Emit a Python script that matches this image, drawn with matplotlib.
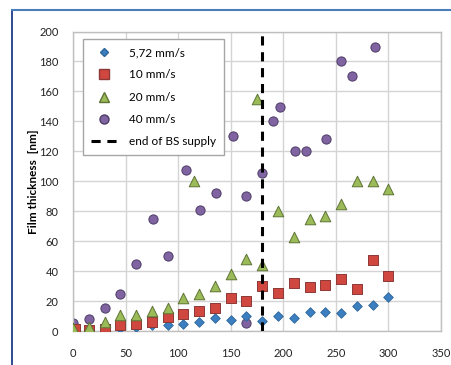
import matplotlib.pyplot as plt
from matplotlib.lines import Line2D

plt.rcParams['font.family'] = ['Lato', 'DejaVu Sans']

# 5,72 mm/s
x_572 = [0, 15, 30, 45, 60, 75, 90, 105, 120, 135, 150, 165, 180, 195, 210, 225, 240, 255, 270, 285, 300]
y_572 = [0, 1, 1, 2, 3, 4, 4, 4.5, 6, 9, 7.5, 10, 7, 10, 9, 13, 12.5, 12, 16.5, 17.5, 23]

# 10 mm/s
x_10 = [2, 15, 30, 45, 60, 75, 90, 105, 120, 135, 150, 165, 180, 195, 210, 225, 240, 255, 270, 285, 300]
y_10 = [1.3, 0.7, 1.6, 3.8, 4.9, 6.2, 9.3, 11.1, 13.6, 15.1, 22.2, 20.2, 30.2, 25.3, 32.2, 29.6, 30.4, 34.9, 28.2, 47.1, 36.9]

# 20 mm/s
x_20 = [0, 15, 30, 45, 60, 75, 90, 105, 115, 120, 135, 150, 165, 175, 180, 195, 210, 225, 240, 255, 270, 285, 300]
y_20 = [2, 2.9, 5.8, 10.4, 10.9, 13.3, 15.1, 22.2, 100, 24.4, 30.2, 37.8, 48, 155, 44, 80, 63, 75, 77, 85, 100, 100, 95]

# 40 mm/s
x_40 = [0, 15, 30, 45, 60, 76, 90, 107, 121, 136, 152, 165, 165, 180, 190, 197, 211, 222, 241, 255, 265, 287]
y_40 = [5.6, 8.2, 15.1, 24.4, 45, 75, 50, 107.3, 81, 92.2, 130.2, 90.2, 5.6, 105.5, 140.4, 149.8, 120, 120, 128.2, 180.2, 170, 189.8]

bs_end = 180

fig = plt.figure(figsize=(4.51, 3.65), dpi=100)
ax = fig.add_axes([73 / 451, 34 / 365, 368 / 451, 299.5 / 365])

ax.scatter(x_572, y_572, marker='D', s=24, color='#3C7FC0', edgecolors='#2E6699',
           linewidths=0.6, zorder=3, label='5,72 mm/s')
ax.scatter(x_10, y_10, marker='s', s=50, color='#D0473F', edgecolors='#8C3836',
           linewidths=0.7, zorder=4, label='10 mm/s')
ax.scatter(x_20, y_20, marker='^', s=58, color='#9BBB59', edgecolors='#5E7334',
           linewidths=0.7, zorder=5, label='20 mm/s')
ax.scatter(x_40, y_40, marker='o', s=44, color='#8064A2', edgecolors='#4E3D66',
           linewidths=0.7, zorder=2, label='40 mm/s')
ax.axvline(bs_end, color='black', linewidth=2.2, linestyle=(0, (3, 2.2)), zorder=6)

ax.set_xlim(0, 350)
ax.set_ylim(0, 200)
ax.set_xticks(range(0, 351, 50))
ax.set_yticks(range(0, 201, 20))
ax.grid(True, color='#D4D4D4', linewidth=1.0)
ax.set_axisbelow(True)
for s in ax.spines.values():
    s.set_color('#BFBFBF')
    s.set_linewidth(1.0)
ax.tick_params(length=0, labelsize=8, colors='#222222')
ax.tick_params(axis='y', pad=10.5)
ax.tick_params(axis='x', pad=12)
ax.set_ylabel('Film thickness  [nm]', fontsize=8.5, fontweight='bold')
ax.yaxis.set_label_coords(-0.093, 0.5)

handles = [
    Line2D([], [], marker='D', linestyle='none', markersize=4.5, color='#3C7FC0', markeredgecolor='#2E6699'),
    Line2D([], [], marker='s', linestyle='none', markersize=6.5, color='#D0473F', markeredgecolor='#8C3836'),
    Line2D([], [], marker='^', linestyle='none', markersize=7, color='#9BBB59', markeredgecolor='#5E7334'),
    Line2D([], [], marker='o', linestyle='none', markersize=6.5, color='#8064A2', markeredgecolor='#4E3D66'),
    Line2D([], [], color='black', linewidth=2.2, linestyle=(0, (3, 2.2))),
]
labels = ['5,72 mm/s', '10 mm/s', '20 mm/s', '40 mm/s', 'end of BS supply']
leg = ax.legend(handles, labels, loc='upper left', bbox_to_anchor=(0.027, 0.975),
                borderaxespad=0, fontsize=8.5, fancybox=False, framealpha=1,
                edgecolor='#A6A6A6', labelspacing=0.95, handlelength=2.2,
                handletextpad=1.0, borderpad=0.7)
leg.get_frame().set_linewidth(1.0)

# border lines of the original frame
fig.add_artist(Line2D([11.5 / 451, 11.5 / 451], [0, 1 - 9.5 / 365], color='#1F3C88', linewidth=1.3))
fig.add_artist(Line2D([11.5 / 451, 1], [1 - 9.5 / 365, 1 - 9.5 / 365], color='#4A7EBB', linewidth=1.5))

fig.savefig('out.png', dpi=100)
